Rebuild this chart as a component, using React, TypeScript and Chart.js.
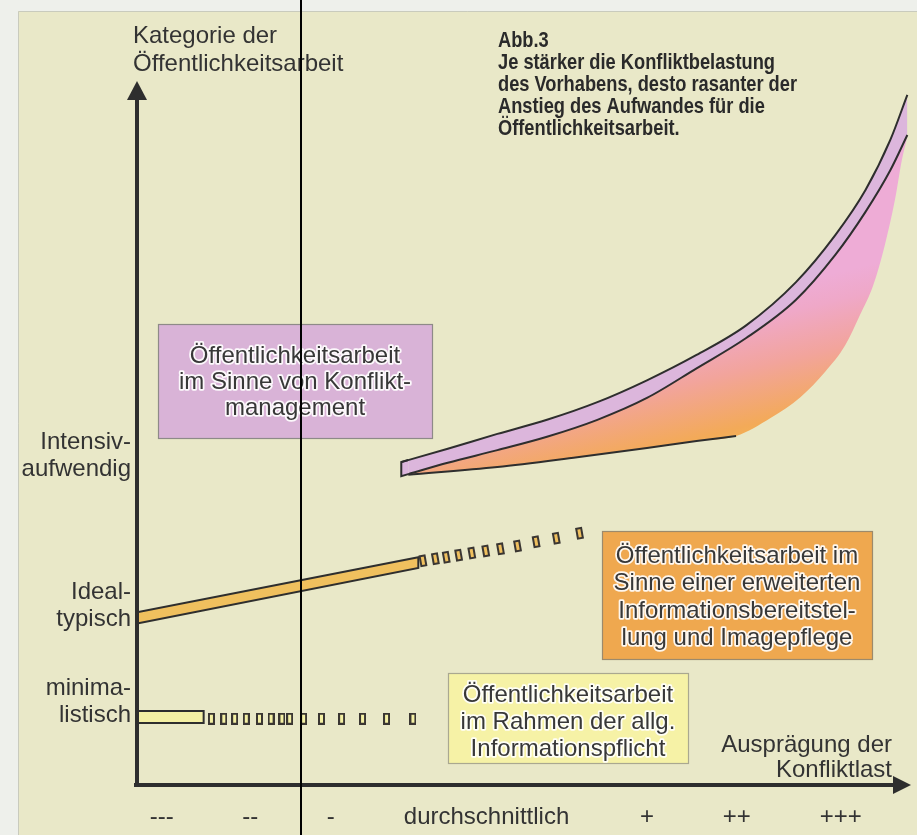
import React, { useEffect, useRef } from 'react';
import { Chart, registerables } from 'chart.js';

Chart.register(...registerables);

// ---------- texts ----------
const xTickLabels = ['---', '--', '-', 'durchschnittlich', '+', '++', '+++'];
const xTickValues = [3.2, 14.6, 25.0, 45.1, 65.8, 77.4, 90.8];
const yTickLabels = [['minima-', 'listisch'], ['Ideal-', 'typisch'], ['Intensiv-', 'aufwendig']];
const yTickValues = [10.1, 23.7, 45.0];

const yAxisTitle = ['Kategorie der', 'Öffentlichkeitsarbeit'];
const xAxisTitle = ['Ausprägung der', 'Konfliktlast'];
const figureTitle = [
  'Abb.3',
  'Je stärker die Konfliktbelastung',
  'des Vorhabens, desto rasanter der',
  'Anstieg des Aufwandes für die',
  'Öffentlichkeitsarbeit.',
];
const boxKonflikt = ['Öffentlichkeitsarbeit', 'im Sinne von Konflikt-', 'management'];
const boxErweitert = ['Öffentlichkeitsarbeit im', 'Sinne einer erweiterten', 'Informationsbereitstel-', 'lung und Imagepflege'];
const boxPflicht = ['Öffentlichkeitsarbeit', 'im Rahmen der allg.', 'Informationspflicht'];

// ---------- minimalistic level ----------
const minimalBarX = [0, 8.6];
const minimalBarY = [8.8, 10.5];
const minimalDotsX = [9.6, 11.2, 12.6, 14.1, 15.8, 17.3, 18.7, 19.7, 21.5, 23.8, 26.4, 29.1, 32.2, 35.6];
const minimalDotsY = [9.4, 9.4, 9.4, 9.4, 9.4, 9.4, 9.4, 9.4, 9.4, 9.4, 9.4, 9.4, 9.4, 9.4];

// ---------- ideal-typical level ----------
const idealBarX = [0, 36.3];
const idealBarLower = [22.9, 30.8];
const idealBarUpper = [24.5, 32.3];
const idealDotsX = [36.9, 38.5, 39.9, 41.5, 43.2, 45.0, 46.9, 49.1, 51.5, 54.1, 57.1];
const idealDotsY = [31.8, 32.1, 32.3, 32.6, 32.9, 33.2, 33.5, 33.9, 34.5, 35.0, 35.7];

// ---------- conflict-management curve ----------
const curveOuterX = [34.1, 40.1, 46.5, 52.9, 59.4, 65.8, 72.2, 78.6, 85.0, 90.1, 94.0, 97.2, 99.4];
const curveOuterY = [45.8, 47.7, 49.8, 51.8, 54.3, 57.4, 61.0, 65.2, 71.3, 78.0, 84.4, 91.5, 97.9];
const curveInnerX = [35.0, 40.1, 46.5, 52.9, 59.4, 65.8, 72.2, 78.6, 85.0, 90.1, 94.0, 97.2, 99.4];
const curveInnerY = [44.1, 45.7, 47.5, 49.4, 51.8, 54.9, 59.1, 63.4, 68.8, 75.2, 81.3, 87.2, 92.2];
const curveLowerX = [35.0, 46.5, 56.8, 65.8, 72.2, 77.3, 81.8, 85.6, 88.8, 91.4, 93.3, 95.0, 96.5, 97.8, 98.7, 99.4];
const curveLowerY = [44.0, 45.1, 46.5, 47.8, 48.8, 49.5, 52.1, 55.0, 58.6, 62.4, 66.7, 70.9, 76.6, 83.0, 88.7, 92.0];
const curveLowerOutlinedPoints = 6;
const capX = [35.0, 34.1, 34.1, 35.0];
const capY = [44.1, 43.8, 45.8, 46.1];

const zip = (xs: number[], ys: number[]) => xs.map((x, i) => ({ x, y: ys[i] }));

const SANS = '"Liberation Sans", Arial, "Noto Sans", sans-serif';
const INK = '#2e2e2e';

function lines(
  ctx: CanvasRenderingContext2D,
  ls: string[],
  x: number,
  y: number,
  lh: number,
  align: CanvasTextAlign,
  halo = false,
  sx = 1,
) {
  ctx.textAlign = align;
  ctx.textBaseline = 'alphabetic';
  ls.forEach((t, i) => {
    ctx.save();
    ctx.translate(x, y + i * lh);
    ctx.scale(sx, 1);
    if (halo) {
      ctx.lineJoin = 'round';
      ctx.strokeStyle = 'rgba(255,255,255,0.9)';
      ctx.lineWidth = 3.5;
      ctx.strokeText(t, 0, 0);
    }
    ctx.fillText(t, 0, 0);
    ctx.restore();
  });
}

function box(ctx: CanvasRenderingContext2D, x0: number, y0: number, x1: number, y1: number, fill: string, stroke: string) {
  ctx.fillStyle = fill;
  ctx.fillRect(x0, y0, x1 - x0, y1 - y0);
  ctx.strokeStyle = stroke;
  ctx.lineWidth = 1.2;
  ctx.strokeRect(x0 + 0.5, y0 + 0.5, x1 - x0, y1 - y0);
}

const diagramPlugin = {
  id: 'diagram',
  beforeDraw(chart: any) {
    const { ctx, width, height } = chart;
    ctx.save();
    ctx.fillStyle = '#eef0eb';
    ctx.fillRect(0, 0, width, height);
    ctx.fillStyle = '#e9e8c8';
    ctx.fillRect(18, 11, width - 18, height - 11);
    ctx.strokeStyle = '#c9cbbd';
    ctx.lineWidth = 1;
    ctx.beginPath();
    ctx.moveTo(18.5, height);
    ctx.lineTo(18.5, 11.5);
    ctx.lineTo(width, 11.5);
    ctx.stroke();
    ctx.restore();
  },
  beforeDatasetsDraw(chart: any) {
    const { ctx } = chart;
    ctx.save();
    // annotation boxes
    box(ctx, 158, 324, 432, 438, '#d9b3d7', '#8e8a88');
    box(ctx, 602, 531, 872, 659, '#efa84f', '#9c8a6c');
    box(ctx, 448, 673, 688, 763, '#f6f2a6', '#aaa890');

    ctx.fillStyle = '#383838';
    ctx.font = `24px ${SANS}`;
    lines(ctx, boxKonflikt, 295, 363, 26, 'center', true);
    lines(ctx, boxErweitert, 737, 563, 27.3, 'center', true);
    lines(ctx, boxPflicht, 568, 702, 27, 'center', true);

    // axis titles
    ctx.fillStyle = '#333';
    lines(ctx, yAxisTitle, 133, 43, 28, 'left');
    lines(ctx, xAxisTitle, 892, 752, 25, 'right');

    // figure title (condensed bold)
    ctx.fillStyle = '#2a2a2a';
    ctx.font = `bold 22px ${SANS}`;
    lines(ctx, figureTitle, 498, 47, 22, 'left', false, 0.83);
    ctx.restore();
  },
  afterDatasetsDraw(chart: any) {
    const { ctx } = chart;
    const xs = chart.scales.x;
    const ys = chart.scales.y;
    const ox = xs.getPixelForValue(0);
    const oy = ys.getPixelForValue(0);
    ctx.save();
    ctx.strokeStyle = INK;
    ctx.fillStyle = INK;
    ctx.lineWidth = 4;
    ctx.lineCap = 'butt';
    // y axis
    ctx.beginPath();
    ctx.moveTo(ox, oy + 2);
    ctx.lineTo(ox, 98);
    ctx.stroke();
    ctx.beginPath();
    ctx.moveTo(ox, 81);
    ctx.lineTo(ox - 10, 100);
    ctx.lineTo(ox + 10, 100);
    ctx.closePath();
    ctx.fill();
    // x axis
    ctx.beginPath();
    ctx.moveTo(ox - 3, oy);
    ctx.lineTo(895, oy);
    ctx.stroke();
    ctx.beginPath();
    ctx.moveTo(911, oy);
    ctx.lineTo(893, oy - 9);
    ctx.lineTo(893, oy + 9);
    ctx.closePath();
    ctx.fill();

    // tick labels
    ctx.fillStyle = '#333';
    ctx.font = `24px ${SANS}`;
    ctx.textBaseline = 'alphabetic';
    ctx.textAlign = 'center';
    xTickLabels.forEach((t, i) => ctx.fillText(t, xs.getPixelForValue(xTickValues[i]), oy + 39));
    ctx.textAlign = 'right';
    yTickLabels.forEach((ls, i) => {
      const p = ys.getPixelForValue(yTickValues[i]) + 8;
      ctx.fillText(ls[1], 131, p);
      ctx.fillText(ls[0], 131, p - 26.5);
    });

    // vertical rule across the scan
    ctx.strokeStyle = '#000';
    ctx.lineWidth = 2;
    ctx.beginPath();
    ctx.moveTo(301, 0);
    ctx.lineTo(301, chart.height);
    ctx.stroke();
    ctx.restore();
  },
};

function rectMarker(fill: string) {
  const c = document.createElement('canvas');
  c.width = 7;
  c.height = 12;
  const g = c.getContext('2d')!;
  g.fillStyle = '#3a3632';
  g.fillRect(0, 0, 7, 12);
  g.fillStyle = fill;
  g.fillRect(2, 2, 3, 8);
  return c;
}

export default function App() {
  const ref = useRef<HTMLCanvasElement>(null);

  useEffect(() => {
    const canvas = ref.current;
    if (!canvas) return;

    const idealPoly = [
      { x: idealBarX[0], y: idealBarLower[0] },
      { x: idealBarX[1], y: idealBarLower[1] },
      { x: idealBarX[1], y: idealBarUpper[1] },
      { x: idealBarX[0], y: idealBarUpper[0] },
      { x: idealBarX[0], y: idealBarLower[0] },
    ];
    const minimalPoly = [
      { x: minimalBarX[0], y: minimalBarY[0] },
      { x: minimalBarX[1], y: minimalBarY[0] },
      { x: minimalBarX[1], y: minimalBarY[1] },
      { x: minimalBarX[0], y: minimalBarY[1] },
      { x: minimalBarX[0], y: minimalBarY[0] },
    ];
    const lowerPts = zip(curveLowerX, curveLowerY);

    const gradientFill = (c: any) => {
      const ch = c.chart;
      if (!ch.chartArea) return '#f2a870';
      const g = ch.ctx.createLinearGradient(765, 478, 722, 300);
      g.addColorStop(0, '#f4c94c');
      g.addColorStop(0.3, '#f3aa58');
      g.addColorStop(0.6, '#f2a49c');
      g.addColorStop(0.85, '#efa8c8');
      g.addColorStop(1, '#eeacd6');
      return g;
    };

    const chart = new Chart(canvas, {
      type: 'scatter',
      data: {
        datasets: [
          {
            label: 'cap',
            data: zip(capX, capY),
            showLine: true,
            fill: 'shape',
            backgroundColor: '#dcb6dc',
            borderColor: INK,
            borderWidth: 2,
            pointRadius: 0,
            order: 5,
          } as any,
          {
            label: 'inner',
            data: zip(curveInnerX, curveInnerY),
            showLine: true,
            fill: false,
            borderColor: INK,
            borderWidth: 2,
            cubicInterpolationMode: 'monotone',
            pointRadius: 0,
            order: 3,
          },
          {
            label: 'outer',
            data: zip(curveOuterX, curveOuterY),
            showLine: true,
            fill: 1,
            backgroundColor: '#dcb6dc',
            borderColor: INK,
            borderWidth: 2,
            cubicInterpolationMode: 'monotone',
            pointRadius: 0,
            order: 4,
          },
          {
            label: 'lower fill',
            data: lowerPts,
            showLine: true,
            fill: 1,
            backgroundColor: gradientFill,
            borderColor: 'rgba(0,0,0,0)',
            borderWidth: 0,
            cubicInterpolationMode: 'monotone',
            pointRadius: 0,
            order: 7,
          } as any,
          {
            label: 'lower edge',
            data: lowerPts.slice(0, curveLowerOutlinedPoints),
            showLine: true,
            fill: false,
            borderColor: INK,
            borderWidth: 2,
            cubicInterpolationMode: 'monotone',
            pointRadius: 0,
            order: 6,
          },
          {
            label: 'ideal bar',
            data: idealPoly,
            showLine: true,
            fill: 'shape',
            backgroundColor: '#f0c05e',
            borderColor: INK,
            borderWidth: 2,
            pointRadius: 0,
            order: 2,
          } as any,
          {
            label: 'minimal bar',
            data: minimalPoly,
            showLine: true,
            fill: 'shape',
            backgroundColor: '#f4f0a4',
            borderColor: INK,
            borderWidth: 2,
            pointRadius: 0,
            order: 2,
          } as any,
          {
            label: 'ideal dots',
            data: zip(idealDotsX, idealDotsY),
            showLine: false,
            pointStyle: rectMarker('#f0c05e'),
            pointRotation: -10,
            pointRadius: 4,
            order: 1,
          } as any,
          {
            label: 'minimal dots',
            data: zip(minimalDotsX, minimalDotsY),
            showLine: false,
            pointStyle: rectMarker('#f4f0a4'),
            pointRadius: 4,
            order: 1,
          } as any,
        ],
      },
      options: {
        responsive: false,
        animation: false,
        devicePixelRatio: 1,
        events: [],
        layout: { padding: { left: 137, right: 0, top: 80, bottom: 50 } },
        scales: {
          x: { type: 'linear', min: 0, max: 100, display: false },
          y: { type: 'linear', min: 0, max: 100, display: false },
        },
        plugins: {
          legend: { display: false },
          tooltip: { enabled: false },
        },
      },
      plugins: [diagramPlugin],
    });

    return () => chart.destroy();
  }, []);

  return (
    <div style={{ position: 'absolute', left: 0, top: 0, width: 917, height: 835 }}>
      <canvas ref={ref} width={917} height={835} style={{ display: 'block', width: 917, height: 835 }} />
    </div>
  );
}
